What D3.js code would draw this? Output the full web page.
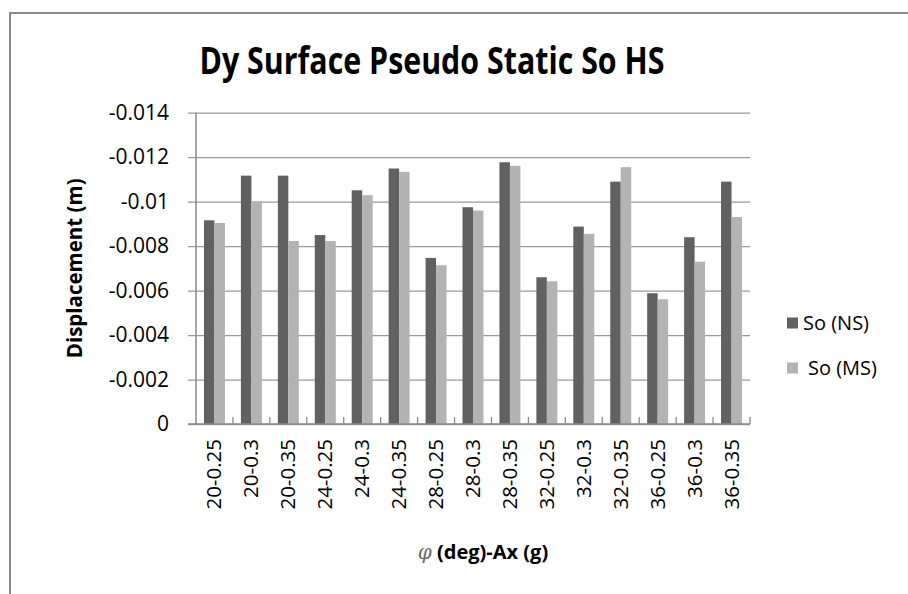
<!DOCTYPE html>
<html>
<head>
<meta charset="utf-8">
<script src="https://cdn.jsdelivr.net/npm/d3@7"></script>
<style>
  html, body { margin: 0; padding: 0; background: #fff; }
  svg { display: block; }
</style>
</head>
<body>
<svg id="chart" width="908" height="594"></svg>
<script>
// ============================================
// Data
// ============================================
const categories = [
    '20-0.25', '20-0.3', '20-0.35',
    '24-0.25', '24-0.3', '24-0.35',
    '28-0.25', '28-0.3', '28-0.35',
    '32-0.25', '32-0.3', '32-0.35',
    '36-0.25', '36-0.3', '36-0.35',
];
const seriesNames = ['So (NS)', 'So (MS)'];
const soNS = [-0.00916, -0.01117, -0.01117, -0.0085, -0.01051, -0.01149, -0.00747, -0.00975,
    -0.01177, -0.0066, -0.00888, -0.0109, -0.00588, -0.0084, -0.0109];
const soMS = [-0.00904, -0.01002, -0.00823, -0.00823, -0.01029, -0.01134, -0.00714, -0.0096,
    -0.01161, -0.00642, -0.00855, -0.01155, -0.00561, -0.0073, -0.00931];
const yTicks = [0, -0.002, -0.004, -0.006, -0.008, -0.01, -0.012, -0.014];

// Color tokens
const COLORS = {
    ns: '#616161',
    ms: '#b3b3b3',
    grid: '#9a9a9a',
    axis: '#8a8a8a',
    ink: '#000',
    border: '#8c8c8c',
};
const FONT = '"Open Sans", "Noto Sans", sans-serif';

const svg = d3.select('#chart');

// chart area border (runs off the right and bottom of the picture)
svg.append('rect')
    .attr('x', 10).attr('y', 13)
    .attr('width', 1000).attr('height', 1000)
    .attr('fill', 'none')
    .attr('stroke', COLORS.border)
    .attr('stroke-width', 2);

// ============================================
// Scales
// ============================================
const plot = { left: 196, right: 750, top: 112.7, bottom: 424 };

const x0 = d3.scaleBand()
    .domain(categories)
    .range([plot.left, plot.right]);

const x1 = d3.scaleBand()
    .domain(seriesNames)
    .range([0, x0.bandwidth()])
    .paddingOuter(0.76);

const y = d3.scaleLinear()
    .domain([0, -0.014])
    .range([plot.bottom, plot.top]);

const g = svg.append('g');

// ============================================
// Gridlines + y axis
// ============================================
const yAxis = d3.axisLeft(y)
    .tickValues(yTicks)
    .tickSize(plot.right - plot.left + 8)
    .tickPadding(19)
    .tickFormat((d) => (d === 0 ? '0' : String(+d.toFixed(3))));

g.append('g')
    .attr('transform', `translate(${plot.right}, 0)`)
    .call(yAxis)
    .call((sel) => sel.select('.domain').remove())
    .call((sel) => sel.selectAll('.tick line')
        .attr('stroke', COLORS.grid)
        .attr('stroke-width', 1.3))
    .call((sel) => sel.selectAll('.tick text')
        .attr('fill', COLORS.ink)
        .attr('font-family', FONT)
        .attr('font-size', 21));

// y axis line
g.append('line')
    .attr('x1', plot.left).attr('x2', plot.left)
    .attr('y1', plot.top).attr('y2', plot.bottom)
    .attr('stroke', COLORS.axis)
    .attr('stroke-width', 1.5);

// ============================================
// Bars
// ============================================
const rows = categories.map((c, i) => ({ cat: c, values: [soNS[i], soMS[i]] }));

const groups = g.selectAll('.cat')
    .data(rows)
    .enter()
    .append('g')
    .attr('class', 'cat')
    .attr('transform', (d) => `translate(${x0(d.cat)}, 0)`);

groups.selectAll('rect')
    .data((d) => d.values.map((v, k) => ({ key: seriesNames[k], value: v })))
    .enter()
    .append('rect')
    .attr('x', (d) => x1(d.key))
    .attr('width', x1.bandwidth())
    .attr('y', (d) => y(d.value))
    .attr('height', (d) => y(0) - y(d.value))
    .attr('fill', (d) => (d.key === seriesNames[0] ? COLORS.ns : COLORS.ms));

// ============================================
// x axis: line, inside tick marks between categories, rotated labels
// ============================================
g.append('line')
    .attr('x1', plot.left - 8).attr('x2', plot.right)
    .attr('y1', plot.bottom).attr('y2', plot.bottom)
    .attr('stroke', COLORS.axis)
    .attr('stroke-width', 1.5);

g.selectAll('.xtick')
    .data(categories.slice(1).concat(['end']))
    .enter()
    .append('line')
    .attr('class', 'xtick')
    .attr('x1', (d) => (d === 'end' ? plot.right : x0(d)))
    .attr('x2', (d) => (d === 'end' ? plot.right : x0(d)))
    .attr('y1', plot.bottom)
    .attr('y2', plot.bottom - 7)
    .attr('stroke', COLORS.axis)
    .attr('stroke-width', 1.3);

g.selectAll('.xlabel')
    .data(categories)
    .enter()
    .append('text')
    .attr('class', 'xlabel')
    .attr('transform', (d) => `translate(${x0(d) + x0.bandwidth() / 2 + 7}, 439) rotate(-90)`)
    .attr('text-anchor', 'end')
    .attr('font-family', FONT)
    .attr('font-size', 20.5)
    .attr('fill', COLORS.ink)
    .text((d) => d);

// ============================================
// Titles
// ============================================
svg.append('text')
    .attr('x', 432)
    .attr('y', 74)
    .attr('text-anchor', 'middle')
    .attr('font-family', FONT)
    .attr('font-weight', 700)
    .attr('font-size', 38)
    .attr('textLength', 465)
    .attr('lengthAdjust', 'spacingAndGlyphs')
    .text('Dy Surface Pseudo Static So HS');

svg.append('text')
    .attr('transform', `translate(82, ${(plot.top + plot.bottom) / 2}) rotate(-90)`)
    .attr('text-anchor', 'middle')
    .attr('font-family', FONT)
    .attr('font-weight', 700)
    .attr('font-size', 20.5)
    .text('Displacement (m)');

const xTitle = svg.append('text')
    .attr('x', 483)
    .attr('y', 559)
    .attr('text-anchor', 'middle')
    .attr('font-family', FONT)
    .attr('font-weight', 700)
    .attr('font-size', 20);
xTitle.append('tspan')
    .attr('font-family', '"DejaVu Serif", serif')
    .attr('font-style', 'italic')
    .attr('font-weight', 400)
    .attr('fill', '#6a6a6a')
    .text('φ');
xTitle.append('tspan').text(' (deg)-Ax (g)');

// ============================================
// Legend
// ============================================
const legend = svg.append('g');
const legendRows = [
    { name: seriesNames[0], color: COLORS.ns, y: 323, dx: 0 },
    { name: seriesNames[1], color: COLORS.ms, y: 368, dx: 5 },
];
legend.selectAll('rect')
    .data(legendRows)
    .enter()
    .append('rect')
    .attr('x', 787)
    .attr('y', (d) => d.y - 5.5)
    .attr('width', 11)
    .attr('height', 11)
    .attr('fill', (d) => d.color);
legend.selectAll('text')
    .data(legendRows)
    .enter()
    .append('text')
    .attr('x', (d) => 803 + d.dx)
    .attr('y', (d) => d.y + 7)
    .attr('font-family', FONT)
    .attr('font-size', 20)
    .attr('fill', COLORS.ink)
    .text((d) => d.name);
</script>
</body>
</html>
